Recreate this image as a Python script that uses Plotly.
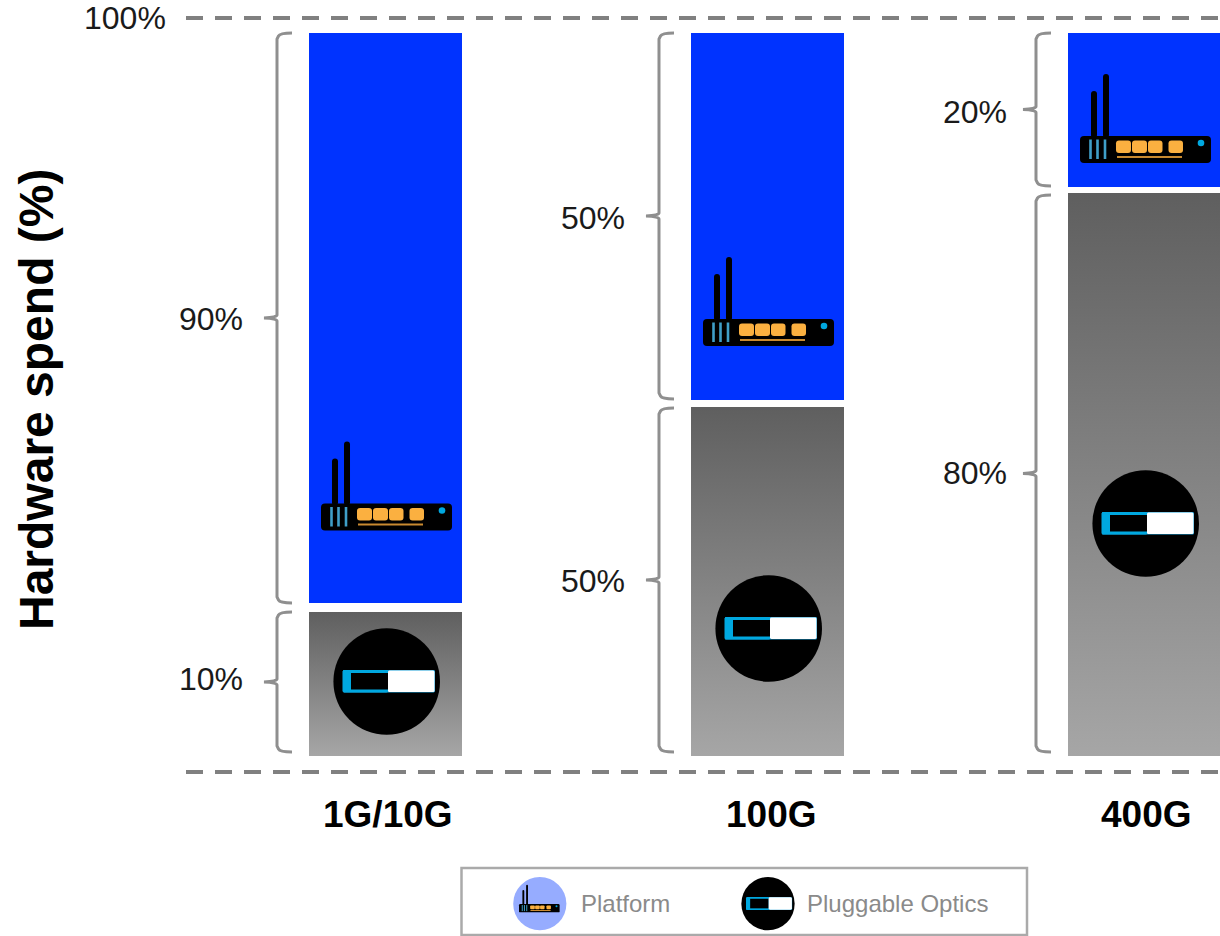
import plotly.graph_objects as go

# Values shown on the chart
categories = ["1G/10G", "100G", "400G"]
platform_share = [90, 50, 20]
optics_share = [10, 50, 80]
legend_labels = ["Platform", "Pluggable Optics"]
y_title = "Hardware spend (%)"
guide_labels = ["100%"]

W, H = 1220, 936
FONT = "Liberation Sans"
BLUE = "#0033ff"
CYAN = "#00a8e0"
ORANGE = "#fbb040"
GREY = "#8f8f8f"

# Layout of the schematic, in canvas pixels: each segment is its own panel
COL_X = [(309, 462), (691, 844), (1068, 1220)]
PLATFORM_Y = [(33, 603), (33, 400), (33, 187)]
OPTICS_Y = [(612, 756), (407, 756), (193, 756)]
BRACE_X = [277, 659, 1036]
BRACE_UPPER = [(33, 603), (33, 399), (33, 186)]
BRACE_LOWER = [(612, 752), (408, 752), (195, 752)]
LABEL_RIGHT = [245, 627, 1009]
LABEL_Y_UPPER = [319, 218, 112]
LABEL_Y_LOWER = [679, 581, 473]
CAT_CENTER = [388, 771, 1146]
ROUTER_SHIFT = [(0, -0.5), (382, -185), (759, -368)]
MODULE_SHIFT = [(0, 0), (382, -53), (759, -158)]


def fx(x):
    return x / W


def fy(y):
    return 1 - y / H


def path(points, close=False):
    """SVG path from (command, x, y, ...) tuples given in canvas pixels."""
    parts = []
    for cmd, *xy in points:
        coords = [f"{fx(v) if i % 2 == 0 else fy(v):.5f}" for i, v in enumerate(xy)]
        parts.append(cmd + " " + " ".join(coords))
    return " ".join(parts) + (" Z" if close else "")


def round_rect(x0, y0, x1, y1, r, color):
    d = path([
        ("M", x0 + r, y0), ("L", x1 - r, y0), ("Q", x1, y0, x1, y0 + r),
        ("L", x1, y1 - r), ("Q", x1, y1, x1 - r, y1), ("L", x0 + r, y1),
        ("Q", x0, y1, x0, y1 - r), ("L", x0, y0 + r), ("Q", x0, y0, x0 + r, y0),
    ], close=True)
    return dict(type="path", xref="paper", yref="paper", path=d, fillcolor=color, line_width=0)


def disc(cx, cy, r, color):
    return dict(type="circle", xref="paper", yref="paper", x0=fx(cx - r), x1=fx(cx + r),
                y0=fy(cy + r), y1=fy(cy - r), fillcolor=color, line_width=0)


def stroke(x0, y0, x1, y1, color, width):
    return dict(type="line", xref="paper", yref="paper", x0=fx(x0), x1=fx(x1),
                y0=fy(y0), y1=fy(y1), line=dict(color=color, width=width))


def router(dx, dy, s=1.0, ox=321, oy=504):
    """Router glyph; (ox, oy) is the top-left corner of its body before shifting."""
    def X(v):
        return ox + (v - 321) * s + dx

    def Y(v):
        return oy + (v - 504) * s + dy

    out = [
        round_rect(X(332), Y(459), X(338), Y(506), 3 * s, "black"),
        round_rect(X(344), Y(442), X(350), Y(506), 3 * s, "black"),
        round_rect(X(321), Y(504), X(452), Y(531), 4 * s, "black"),
    ]
    for sx in (331.5, 338.5, 346):
        out.append(stroke(X(sx), Y(507.5), X(sx), Y(527), "#3f9fc8", max(2.6 * s, 1)))
    for x0, x1 in ((357, 372), (373, 388), (389, 403.5), (409.5, 424)):
        out.append(round_rect(X(x0), Y(508.5), X(x1), Y(521), 3 * s, ORANGE))
    out.append(stroke(X(358), Y(525), X(423), Y(525), "#c98a30", max(2 * s, 1)))
    out.append(disc(X(442), Y(511), 3.3 * s, CYAN))
    return out


def module(dx, dy, sx=1.0, sy=1.0, cx=386.7, cy=681.5):
    """Round optics glyph: black disc with a blue and white transceiver."""
    def X(v):
        return cx + (v - 386.7) * sx + dx

    def Y(v):
        return cy + (v - 681.5) * sy + dy

    return [
        disc(X(386.7), Y(681.5), 53.3 * sx, "black"),
        round_rect(X(342.7), Y(670), X(435), Y(692.5), 1.5, "#1a9ed4"),
        round_rect(X(342.7), Y(670), X(388), Y(692.5), 1.5, CYAN),
        dict(type="rect", xref="paper", yref="paper", x0=fx(X(351)), x1=fx(X(388)),
             y0=fy(Y(689.5)), y1=fy(Y(673)), fillcolor="black", line_width=0),
        round_rect(X(388), Y(670.5), X(434.5), Y(692), 1.5, "white"),
    ]


def brace(x, top, bottom):
    mid = (top + bottom) / 2
    d = path([
        ("M", x + 15, top), ("Q", x + 3, top, x + 1.5, top + 3), ("L", x, top + 6),
        ("L", x, mid - 3), ("Q", x, mid - 0.5, x - 13, mid),
        ("Q", x, mid + 0.5, x, mid + 3), ("L", x, bottom - 6), ("L", x + 1.5, bottom - 3),
        ("Q", x + 3, bottom, x + 15, bottom),
    ])
    return dict(type="path", xref="paper", yref="paper", path=d,
                line=dict(color=GREY, width=3), fillcolor="rgba(0,0,0,0)")


def note(text, x, y, size, color="#1a1a1a", anchor="center", bold=False, angle=0):
    return dict(text=f"<b>{text}</b>" if bold else text, x=fx(x), y=fy(y), xref="paper",
                yref="paper", showarrow=False, xanchor=anchor, yanchor="middle",
                textangle=angle, font=dict(family=FONT, size=size, color=color))


fig = go.Figure()
layout_axes = {}

for i, cat in enumerate(categories):
    xname = "x" if i == 0 else f"x{i + 1}"
    layout_axes["xaxis" if i == 0 else f"xaxis{i + 1}"] = dict(
        domain=[fx(COL_X[i][0]), fx(COL_X[i][1])], range=[-0.5, 0.5], visible=False,
        fixedrange=True)
    y_up, y_low = f"y{2 * i + 1}", f"y{2 * i + 2}"
    for yname, value, span in ((y_up, platform_share[i], PLATFORM_Y[i]),
                               (y_low, optics_share[i], OPTICS_Y[i])):
        key = "yaxis" if yname == "y1" else f"yaxis{yname[1:]}"
        layout_axes[key] = dict(domain=[fy(span[1]), fy(span[0])], range=[0, value],
                                visible=False, anchor=xname, fixedrange=True)
    fig.add_trace(go.Bar(x=[0], y=[platform_share[i]], width=[1], name=legend_labels[0],
                         xaxis=xname, yaxis=y_up, marker=dict(color=BLUE, line_width=0),
                         showlegend=False, customdata=[cat]))
    fig.add_trace(go.Bar(x=[0], y=[optics_share[i]], width=[1], name=legend_labels[1],
                         xaxis=xname, yaxis=y_low, marker=dict(color="#828282", line_width=0),
                         showlegend=False, customdata=[cat]))
    # Vertical shading on the optics segment
    fig.add_trace(go.Scatter(
        x=[-0.5, 0.5], y=[optics_share[i], optics_share[i]], xaxis=xname, yaxis=y_low,
        mode="lines", line=dict(width=0), fill="tozeroy", showlegend=False, hoverinfo="skip",
        fillgradient=dict(type="vertical", start=0, stop=optics_share[i],
                          colorscale=[[0, "#a6a6a6"], [1, "#5f5f5f"]])))

shapes = []
# Dashed limits at 100% and 0%
for y in (18, 772):
    shapes.append(dict(type="line", xref="paper", yref="paper", x0=fx(186), x1=1, y0=fy(y), y1=fy(y),
                       line=dict(color="#808080", width=4, dash="17px,12px")))

annotations = [
    note(guide_labels[0], 168, 18, 32, anchor="right"),
    note(y_title, 36, 400, 48, color="black", bold=True, angle=-90),
]

for i, cat in enumerate(categories):
    shapes.append(brace(BRACE_X[i], *BRACE_UPPER[i]))
    shapes.append(brace(BRACE_X[i], *BRACE_LOWER[i]))
    shapes += router(*ROUTER_SHIFT[i])
    shapes += module(*MODULE_SHIFT[i])
    annotations.append(note(f"{platform_share[i]}%", LABEL_RIGHT[i], LABEL_Y_UPPER[i], 32, anchor="right"))
    annotations.append(note(f"{optics_share[i]}%", LABEL_RIGHT[i], LABEL_Y_LOWER[i], 32, anchor="right"))
    annotations.append(note(cat, CAT_CENTER[i], 814, 37, color="black", bold=True))

# Legend panel
shapes.append(dict(type="rect", xref="paper", yref="paper", x0=fx(461.5), x1=fx(1027),
                   y0=fy(935), y1=fy(868), fillcolor="white",
                   line=dict(color="#aaaaaa", width=2.5)))
shapes.append(disc(539.8, 903.7, 26.6, "#96acff"))
shapes += router(0, 0, s=0.31, ox=519, oy=904)
shapes += module(0, 0, sx=0.5, sy=0.58, cx=768, cy=903.7)
annotations.append(note(legend_labels[0], 579, 903, 24, color="#8a8a8a", anchor="left"))
annotations.append(note(legend_labels[1], 805, 903, 24, color="#8a8a8a", anchor="left"))

fig.update_layout(
    width=W, height=H, margin=dict(l=0, r=0, t=0, b=0, pad=0), autosize=False,
    paper_bgcolor="white", plot_bgcolor="white", showlegend=False,
    shapes=shapes, annotations=annotations, barmode="overlay", **layout_axes,
)
fig.write_html("out.html", config=dict(displayModeBar=False))
